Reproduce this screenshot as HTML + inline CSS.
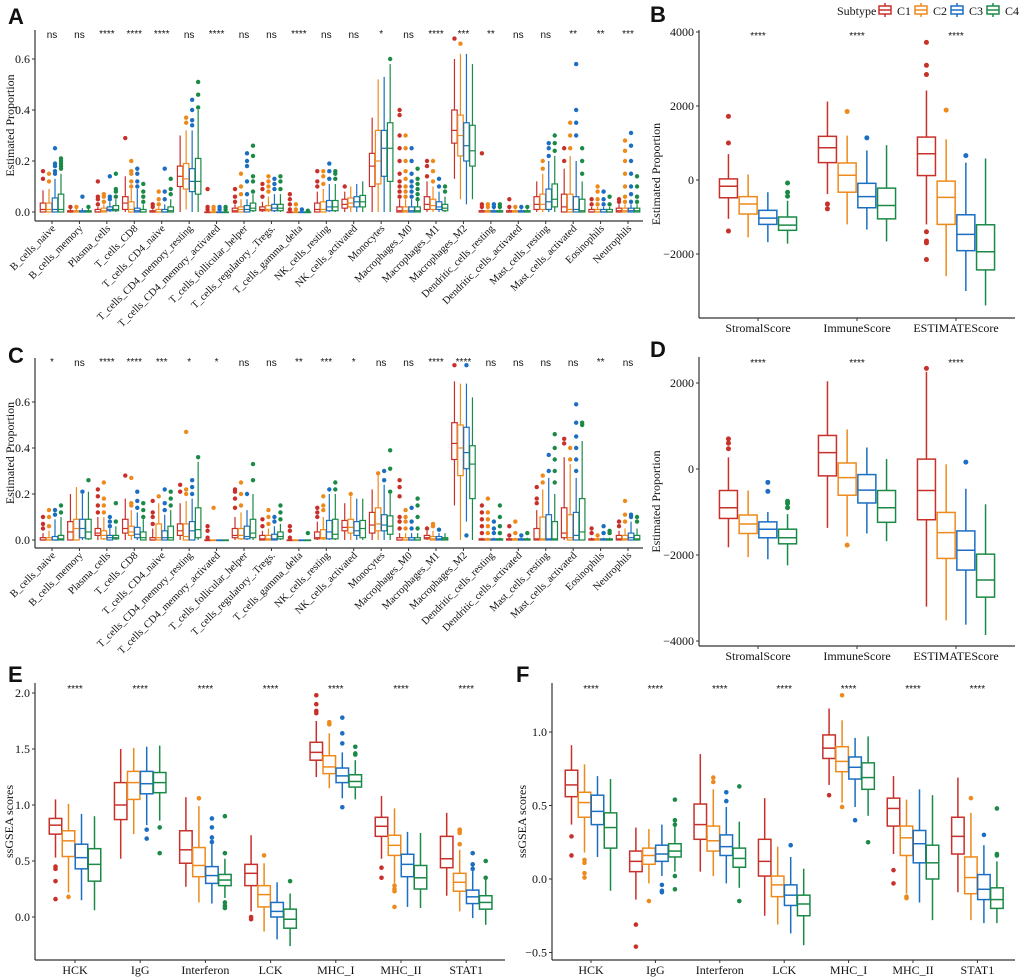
<!DOCTYPE html>
<html><head><meta charset="utf-8"><title>Immune infiltration boxplots</title>
<style>html,body{margin:0;padding:0;background:#fff}svg{display:block}
text{font-family:"Liberation Serif",serif;fill:#111}
.pl{font-family:"Liberation Sans",sans-serif;font-weight:bold;font-size:22px}
.sig{font-family:"Liberation Sans",sans-serif;font-size:10px}
</style></head><body>
<svg id="fig" width="1020" height="979" viewBox="0 0 1020 979"></svg>
<script>
const colors=["#c8302a","#ee8a1c","#1b6ec2","#1b8a47"];
const subtypes=["C1","C2","C3","C4"];
const cellCats=["B_cells_naive","B_cells_memory","Plasma_cells","T_cells_CD8","T_cells_CD4_naive","T_cells_CD4_memory_resting","T_cells_CD4_memory_activated","T_cells_follicular_helper","T_cells_regulatory_.Tregs.","T_cells_gamma_delta","NK_cells_resting","NK_cells_activated","Monocytes","Macrophages_M0","Macrophages_M1","Macrophages_M2","Dendritic_cells_resting","Dendritic_cells_activated","Mast_cells_resting","Mast_cells_activated","Eosinophils","Neutrophils"];
const scoreCats=["StromalScore","ImmuneScore","ESTIMATEScore"];
const geneCats=["HCK","IgG","Interferon","LCK","MHC_I","MHC_II","STAT1"];
const sigA=["ns","ns","****","****","****","ns","****","ns","ns","****","ns","ns","*","ns","****","***","**","ns","ns","**","**","***"];
const sigC=["*","ns","****","****","***","*","*","ns","ns","**","***","*","ns","ns","****","****","ns","ns","ns","ns","**","ns"];
const sig3=["****","****","****"];
const sig7=["****","****","****","****","****","****","****"];
// [low whisker, q1, median, q3, high whisker]
const A_C1=[[0,0,0.01,0.035,0.085],[0,0,0,0.005,0.015],[0,0,0,0.01,0.02],[0,0.01,0.035,0.06,0.14],[0,0,0,0.005,0.01],[0,0.1,0.14,0.18,0.3],[0,0,0,0,0],[0,0,0.005,0.015,0.03],[0,0.005,0.01,0.02,0.04],[0,0,0,0,0],[0,0,0.01,0.035,0.08],[0,0.015,0.03,0.05,0.08],[0,0.1,0.18,0.23,0.37],[0,0,0.005,0.02,0.05],[0,0.01,0.03,0.06,0.12],[0.13,0.27,0.32,0.4,0.6],[0,0,0,0.005,0.01],[0,0,0,0.005,0.01],[0,0.01,0.03,0.06,0.12],[0,0,0.02,0.07,0.17],[0,0,0,0.01,0.02],[0,0,0.005,0.015,0.03]];
const A_C2=[[0,0,0.01,0.035,0.09],[0,0,0,0.005,0.015],[0,0,0.005,0.015,0.03],[0,0,0.01,0.04,0.09],[0,0,0,0.01,0.02],[0.01,0.09,0.13,0.19,0.32],[0,0,0,0,0],[0,0,0.01,0.02,0.05],[0,0.005,0.01,0.025,0.06],[0,0,0,0,0],[0,0,0.01,0.04,0.09],[0,0.02,0.035,0.055,0.1],[0,0.11,0.2,0.32,0.52],[0,0,0.005,0.02,0.05],[0,0.01,0.025,0.05,0.1],[0.05,0.22,0.3,0.38,0.62],[0,0,0,0.005,0.01],[0,0,0,0.005,0.01],[0,0.01,0.03,0.07,0.15],[0,0,0.01,0.07,0.22],[0,0,0,0.01,0.02],[0,0,0.005,0.015,0.03]];
const A_C3=[[0,0,0.01,0.055,0.13],[0,0,0,0.005,0.015],[0,0.005,0.01,0.02,0.04],[0,0,0.005,0.015,0.09],[0,0,0,0.01,0.03],[0,0.08,0.12,0.17,0.32],[0,0,0,0,0],[0,0,0.01,0.025,0.05],[0,0.005,0.015,0.03,0.07],[0,0,0,0,0],[0,0.005,0.02,0.045,0.11],[0,0.02,0.04,0.06,0.11],[0,0.14,0.25,0.32,0.53],[0,0,0.005,0.02,0.05],[0,0.01,0.02,0.04,0.08],[0.03,0.2,0.26,0.35,0.62],[0,0,0,0.005,0.01],[0,0,0,0.005,0.01],[0,0.01,0.04,0.09,0.2],[0,0,0.01,0.06,0.2],[0,0,0,0.01,0.02],[0,0,0.005,0.015,0.03]];
const A_C4=[[0,0,0.01,0.07,0.15],[0,0,0,0.005,0.015],[0,0.005,0.01,0.025,0.05],[0,0,0,0.01,0.03],[0,0,0.005,0.02,0.05],[0,0.07,0.12,0.21,0.4],[0,0,0,0,0],[0,0.005,0.015,0.035,0.07],[0,0.005,0.015,0.03,0.07],[0,0,0,0,0],[0,0.005,0.02,0.045,0.11],[0,0.02,0.04,0.065,0.12],[0,0.12,0.25,0.35,0.58],[0,0,0.005,0.02,0.05],[0,0.005,0.015,0.03,0.06],[0.05,0.18,0.24,0.34,0.58],[0,0,0,0.005,0.01],[0,0,0,0.005,0.01],[0,0.02,0.05,0.11,0.22],[0,0,0.005,0.05,0.12],[0,0,0,0.01,0.02],[0,0,0.005,0.015,0.03]];
const A_O1=[[0.13,0.16],[0.02],[0.03,0.05,0.06,0.12],[0.29],[0.02,0.03],[],[0.01,0.02,0.09],[0.04,0.06,0.09],[0.06,0.09,0.11],[0.01,0.03,0.05,0.07],[0.1,0.12,0.16],[0.1],[],[0.06,0.08,0.1,0.12,0.15,0.2,0.25,0.3,0.38,0.4],[0.14,0.18,0.2],[0.68],[0.02,0.03,0.23],[0.02,0.05],[],[0.2,0.25],[0.03,0.05],[0.04,0.05]];
const A_O2=[[0.12,0.15],[0.02],[0.04,0.06,0.07],[0.1,0.12,0.15,0.16,0.2],[0.03,0.05,0.08],[0.35,0.37],[0.01,0.02],[0.07,0.1,0.15],[0.08,0.1,0.12,0.14],[0.01,0.03],[0.11,0.14,0.16],[],[],[0.06,0.08,0.1,0.13,0.16,0.2,0.25,0.3],[0.12,0.16,0.2],[0.66],[0.02,0.03],[0.02],[0.17,0.2],[0.25,0.3,0.35],[0.03,0.05,0.08,0.1],[0.04,0.06,0.1,0.15,0.2,0.24,0.28]];
const A_O3=[[0.15,0.16,0.18,0.19,0.25],[0.06],[0.05,0.06,0.14],[0.1,0.12,0.15,0.17],[0.05,0.08,0.17],[0.34,0.36,0.4,0.44],[0.01,0.02],[0.07,0.12,0.18,0.2,0.23],[0.09,0.11,0.13],[0.01],[0.13,0.16,0.19],[],[],[0.06,0.08,0.1,0.12,0.15,0.2,0.25],[0.1,0.13],[],[0.02,0.03],[0.02],[0.22,0.25,0.27],[0.3,0.35,0.4,0.58],[0.03,0.05,0.08],[0.04,0.07,0.1,0.15,0.2,0.26,0.31]];
const A_O4=[[0.17,0.18,0.19,0.2,0.21],[0.02],[0.06,0.08,0.09,0.15],[0.04,0.06,0.08,0.11],[0.07,0.09,0.13],[0.41,0.46,0.51],[0.01,0.02],[0.08,0.12,0.14,0.22,0.26],[0.09,0.12,0.14],[0.005],[0.13,0.15,0.16],[],[0.6],[0.05,0.07,0.09,0.11,0.13,0.17],[0.08,0.1],[],[0.02,0.03],[0.02],[0.24,0.27,0.3],[0.15,0.2,0.25],[0.03,0.06],[0.04,0.06,0.1,0.14]];
const C_C1=[[0,0,0,0.01,0.03],[0,0,0.035,0.08,0.2],[0,0.02,0.03,0.05,0.1],[0,0.03,0.05,0.09,0.18],[0,0,0,0.01,0.05],[0,0.02,0.04,0.07,0.16],[0,0,0,0,0],[0,0.01,0.02,0.05,0.1],[0,0,0.005,0.02,0.04],[0,0,0,0,0],[0,0.005,0.01,0.035,0.08],[0,0.04,0.055,0.085,0.16],[0,0.03,0.065,0.12,0.22],[0,0,0,0.01,0.03],[0,0.005,0.01,0.02,0.04],[0.15,0.35,0.42,0.51,0.69],[0,0,0,0.005,0.01],[0,0,0,0.005,0.01],[0,0,0.005,0.05,0.13],[0,0.01,0.03,0.14,0.36],[0,0,0,0.005,0.01],[0,0,0.005,0.02,0.04]];
const C_C2=[[0,0,0,0.01,0.04],[0,0,0.05,0.09,0.23],[0,0.005,0.02,0.04,0.1],[0,0.02,0.035,0.06,0.13],[0,0,0.01,0.07,0.16],[0,0,0.015,0.07,0.17],[0,0,0,0,0],[0,0.005,0.02,0.05,0.12],[0,0,0.005,0.02,0.05],[0,0,0,0,0],[0,0.005,0.01,0.045,0.1],[0,0.03,0.055,0.09,0.19],[0,0.04,0.07,0.14,0.28],[0,0,0,0.01,0.03],[0,0,0.005,0.015,0.04],[0,0.28,0.4,0.5,0.68],[0,0,0,0.005,0.01],[0,0,0,0.005,0.01],[0,0,0.005,0.1,0.22],[0,0,0.01,0.11,0.33],[0,0,0,0.005,0.01],[0,0,0.005,0.02,0.05]];
const C_C3=[[0,0,0,0.015,0.09],[0,0.01,0.05,0.09,0.2],[0,0,0.01,0.02,0.05],[0,0.01,0.025,0.055,0.12],[0,0,0.01,0.04,0.11],[0,0,0.04,0.08,0.18],[0,0,0,0,0],[0,0.005,0.015,0.06,0.13],[0,0,0.005,0.025,0.06],[0,0,0,0,0],[0,0.005,0.035,0.085,0.2],[0,0.02,0.04,0.08,0.18],[0,0.04,0.065,0.11,0.24],[0,0,0,0.01,0.03],[0,0,0.005,0.015,0.03],[0.08,0.31,0.38,0.49,0.68],[0,0,0,0.005,0.01],[0,0,0,0.005,0.01],[0,0,0.005,0.11,0.27],[0,0,0.02,0.12,0.27],[0,0,0,0.005,0.01],[0,0,0.01,0.03,0.08]];
const C_C4=[[0,0,0.005,0.02,0.1],[0,0.005,0.035,0.09,0.21],[0,0.005,0.01,0.02,0.06],[0,0,0.01,0.035,0.09],[0,0,0.01,0.06,0.13],[0,0.01,0.045,0.14,0.34],[0,0,0,0,0],[0,0.01,0.03,0.09,0.2],[0,0.005,0.015,0.035,0.07],[0,0,0,0,0],[0,0.005,0.025,0.09,0.2],[0,0.01,0.05,0.085,0.18],[0,0.025,0.06,0.105,0.2],[0,0,0,0.01,0.03],[0,0,0.005,0.01,0.03],[0,0.18,0.33,0.41,0.62],[0,0,0,0.005,0.01],[0,0,0,0.005,0.01],[0,0,0.005,0.08,0.2],[0,0,0.035,0.18,0.43],[0,0,0,0.005,0.01],[0,0,0.005,0.02,0.05]];
const C_O1=[[0.05,0.07,0.1],[],[0.12,0.15,0.19,0.22],[0.28],[0.07,0.1,0.12,0.17],[0.21,0.24],[0.01,0.04,0.06],[0.14,0.18,0.21,0.22],[0.06,0.09],[0.01,0.04,0.06],[0.1,0.12,0.14],[],[],[0.05,0.08,0.1,0.19,0.23,0.26],[0.05],[0.76],[0.03,0.06,0.09,0.12,0.15],[0.02,0.06],[0.16,0.18,0.23],[0.42,0.44],[0.03,0.05],[0.06,0.08]];
const C_O2=[[0.06,0.1,0.13],[],[0.12,0.15,0.18,0.25],[0.15,0.16,0.27],[0.19],[0.2,0.22,0.47],[0.14],[0.15,0.2,0.25],[0.07,0.1,0.13],[],[0.13,0.15,0.19],[0.2],[0.29],[0.05,0.08,0.1,0.13],[0.06,0.07],[],[0.03,0.06,0.09,0.12,0.18],[0.03,0.08],[0.25,0.28],[0.35,0.4],[0.02],[0.08,0.11,0.17]];
const C_O3=[[0.11,0.13],[0.21],[0.06,0.08,0.1],[0.14,0.17,0.21],[0.13,0.16,0.22],[0.2,0.23,0.26],[],[0.2],[0.08,0.1],[],[0.22],[],[0.26,0.3],[0.05,0.08,0.14],[0.045],[0.02,0.76],[0.03,0.05,0.08],[0.02],[0.3,0.37],[0.3,0.35,0.4,0.45,0.51,0.59],[0.03,0.06],[0.1,0.11]];
const C_O4=[[0.12,0.15],[0.26],[0.08,0.16],[0.1,0.13,0.16],[0.15,0.18,0.21],[0.36],[],[0.26,0.33],[0.09,0.12,0.15],[0.03],[0.22,0.25],[],[0.21,0.31,0.39],[0.05,0.1,0.15,0.18],[],[],[0.03,0.06,0.1,0.15],[0.03],[0.25,0.3,0.35,0.4,0.46],[0.5,0.51],[0.03,0.04],[0.08,0.1]];
const B_C1=[[-1050,-480,-170,30,700],[-380,470,870,1180,2120],[-1200,120,710,1160,2420]];
const B_C2=[[-1550,-920,-650,-450,150],[-1200,-330,130,460,1200],[-2600,-1200,-470,-30,1100]];
const B_C3=[[-1680,-1200,-1030,-820,-330],[-1340,-750,-450,-90,800],[-3000,-1910,-1470,-940,470]];
const B_C4=[[-1720,-1360,-1220,-1000,-560],[-1660,-1050,-690,-220,940],[-3390,-2430,-1940,-1210,580]];
const B_O1=[[1000,1720,-1380],[-650,-780],[2850,3100,3720,-1400,-1650,-1700,-2150]];
const B_O2=[[],[1850],[1890]];
const B_O3=[[],[1140],[660]];
const B_O4=[[-80,-330,-440],[],[]];
const D_C1=[[-1820,-1150,-900,-500,270],[-1370,-160,380,780,2040],[-3200,-1180,-500,230,2260]];
const D_C2=[[-2050,-1500,-1280,-1070,-500],[-1570,-610,-200,140,920],[-3520,-2080,-1480,-1010,110]];
const D_C3=[[-2100,-1600,-1400,-1230,-1000],[-1500,-790,-490,-130,500],[-3620,-2350,-1890,-1440,-460]];
const D_C4=[[-2240,-1740,-1600,-1400,-1050],[-1680,-1240,-900,-500,230],[-3860,-2980,-2580,-1980,-820]];
const D_O1=[[470,600,700],[],[2340]];
const D_O2=[[],[-1770],[]];
const D_O3=[[-520,-310],[],[160]];
const D_O4=[[-900,-800,-750],[],[]];
const E_C1=[[0.53,0.74,0.82,0.88,1.05],[0.52,0.87,1.0,1.2,1.5],[0.27,0.48,0.6,0.77,1.07],[0.05,0.28,0.39,0.47,0.73],[1.25,1.4,1.47,1.56,1.75],[0.52,0.72,0.81,0.89,1.08],[0.19,0.44,0.52,0.72,0.93]];
const E_C2=[[0.22,0.54,0.68,0.77,1.01],[0.74,1.05,1.2,1.3,1.51],[0.13,0.36,0.46,0.62,0.99],[-0.13,0.09,0.2,0.28,0.48],[1.15,1.28,1.34,1.44,1.64],[0.3,0.55,0.64,0.73,0.97],[0.05,0.23,0.31,0.39,0.6]];
const E_C3=[[0.15,0.43,0.53,0.65,0.92],[0.82,1.1,1.19,1.3,1.52],[0.12,0.3,0.37,0.45,0.66],[-0.2,0,0.05,0.13,0.31],[1.06,1.2,1.26,1.33,1.47],[0.09,0.36,0.47,0.56,0.76],[-0.01,0.12,0.18,0.24,0.41]];
const E_C4=[[0.06,0.32,0.47,0.61,0.9],[0.86,1.11,1.2,1.29,1.53],[0.17,0.28,0.33,0.38,0.52],[-0.26,-0.1,-0.02,0.07,0.21],[1.05,1.16,1.21,1.27,1.4],[0.08,0.25,0.35,0.46,0.75],[-0.07,0.07,0.13,0.19,0.33]];
const E_O1=[[0.45,0.43,0.32,0.16],[],[],[0,-0.02],[1.82,1.84,1.9,1.98],[0.44,0.35],[]];
const E_O2=[[0.18],[],[1.06],[0.55],[1.72,1.74],[0.28,0.25,0.23,0.09],[0.65,0.75,0.77,0.78]];
const E_O3=[[],[0.78,0.7],[0.71,0.8,0.88,0.67],[],[0.98,1.55,1.64,1.78],[],[0.43,0.47,0.57]];
const E_O4=[[],[0.8,0.57],[0.57,0.9,0.13,0.1,0.08],[0.32],[1.45,1.46,1.52],[],[0.35,0.5]];
const F_C1=[[0.37,0.56,0.64,0.74,0.91],[-0.14,0.05,0.12,0.19,0.35],[0.05,0.27,0.37,0.51,0.85],[-0.25,0.02,0.12,0.27,0.55],[0.64,0.82,0.89,0.98,1.16],[0.17,0.36,0.48,0.55,0.7],[-0.09,0.17,0.29,0.42,0.69]];
const F_C2=[[0.18,0.42,0.52,0.59,0.78],[-0.03,0.1,0.16,0.21,0.34],[0.02,0.19,0.26,0.36,0.61],[-0.31,-0.12,-0.04,0.02,0.22],[0.52,0.73,0.8,0.9,1.08],[-0.1,0.16,0.28,0.36,0.54],[-0.28,-0.1,0.01,0.15,0.45]];
const F_C3=[[0.15,0.37,0.46,0.57,0.7],[0.02,0.12,0.17,0.23,0.37],[-0.03,0.16,0.22,0.3,0.49],[-0.37,-0.18,-0.11,-0.04,0.15],[0.49,0.68,0.76,0.83,0.96],[-0.16,0.11,0.24,0.33,0.61],[-0.3,-0.14,-0.07,0.03,0.23]];
const F_C4=[[-0.08,0.21,0.35,0.45,0.68],[0.05,0.15,0.19,0.24,0.36],[-0.06,0.08,0.14,0.21,0.39],[-0.45,-0.25,-0.17,-0.11,0.07],[0.43,0.61,0.69,0.79,0.97],[-0.28,0,0.11,0.23,0.57],[-0.3,-0.2,-0.14,-0.06,0.12]];
const F_O1=[[0.29,0.16],[-0.31,-0.46],[],[],[0.57],[0.06,-0.03],[]];
const F_O2=[[0.13,0.11,0.04,0.01],[-0.15],[0.66,0.69],[],[0.49,1.25],[-0.12,-0.13],[0.55]];
const F_O3=[[],[-0.04,-0.08,-0.09],[0.53,0.59],[0.23],[0.4],[],[0.3]];
const F_O4=[[],[0.37,0.4,0.54,0.02,-0.07],[0.63,-0.15],[],[0.25],[],[0.16,0.17,0.48]];
const yTicksA=[0,0.2,0.4,0.6], yTicksB=[-2000,0,2000,4000], yTicksD=[-4000,-2000,0,2000];
const yTicksE=[0,0.5,1,1.5,2], yTicksF=[-0.5,0,0.5,1];

const NS="http://www.w3.org/2000/svg";
const svg=document.getElementById('fig');
function mk(tag,attrs,parent){const e=document.createElementNS(NS,tag);for(const k in attrs)e.setAttribute(k,attrs[k]);(parent||svg).appendChild(e);return e;}
function txt(s,attrs,parent){const e=mk('text',attrs,parent);e.textContent=s;return e;}

function panel(p){
  const g=mk('g',{});
  
  
  const y=v=>p.py0+(v-p.v0)*(p.py1-p.py0)/(p.v1-p.v0);
  const x=i=>p.c0+i*p.step;
  const ya=mk('line',{x1:p.ax,y1:p.top,x2:p.ax,y2:p.bottom,stroke:'#333','stroke-width':1.2},g);
  
  
  const xa=mk('line',{x1:p.ax,y1:p.bottom,x2:p.xEnd,y2:p.bottom,stroke:'#333','stroke-width':1.2},g);
  
  
  p.ticks.forEach(t=>{
    const yy=y(t);
    mk('line',{x1:p.ax-3,y1:yy,x2:p.ax,y2:yy,stroke:'#333','stroke-width':1},g);
    const lab=txt(p.fmt(t),{x:p.ax-5,y:yy+4,'text-anchor':'end','font-size':12},g);
    
    
  });
  const yt=txt(p.ytitle,{x:0,y:0,'font-size':12,'text-anchor':'middle',transform:`translate(${p.ytx},${(p.top+p.bottom)/2}) rotate(-90)`},g);
  
  
  p.cats.forEach((c,i)=>{
    const cx=x(i);
    mk('line',{x1:cx,y1:p.bottom,x2:cx,y2:p.bottom+3,stroke:'#333','stroke-width':1},g);
    let lab;
    if(p.rot){lab=txt(c,{x:0,y:0,'font-size':10.5,'text-anchor':'end',transform:`translate(${cx+4},${p.bottom+8}) rotate(-45)`},g);}
    else{lab=txt(c,{x:cx,y:p.bottom+14,'font-size':12,'text-anchor':'middle'},g);}
    
    
    const s=txt(p.sig[i],{x:cx,y:p.sigY+(p.sig[i]==='ns'?0:-1),'text-anchor':'middle',class:'sig','font-size':p.sig[i]==='ns'?11:9},g);
    
    
    for(let k=0;k<4;k++){
      const st=p.stats[k][i], bx=cx+(k-1.5)*p.dodge, hw=p.bw/2, col=colors[k];
      const bg=mk('g',{},g);
      
      
      mk('line',{x1:bx,y1:y(st[0]),x2:bx,y2:y(st[1]),stroke:col,'stroke-width':p.lw},bg);
      mk('line',{x1:bx,y1:y(st[3]),x2:bx,y2:y(st[4]),stroke:col,'stroke-width':p.lw},bg);
      const h=Math.max(0.6,y(st[1])-y(st[3]));
      mk('rect',{x:bx-hw,y:y(st[3]),width:p.bw,height:h,fill:'#fff',stroke:col,'stroke-width':p.lw},bg);
      mk('line',{x1:bx-hw,y1:y(st[2]),x2:bx+hw,y2:y(st[2]),stroke:col,'stroke-width':p.lw},bg);
      p.outs[k][i].forEach(v=>{
        const d=mk('circle',{cx:bx,cy:y(v),r:p.r,fill:col},bg);
        
        
      });
    }
  });
}
const f1=v=>v.toFixed(1), f0=v=>v<0?'\u2212'+Math.abs(v):String(v);
panel({name:'panel-a',cats:cellCats,sig:sigA,stats:[A_C1,A_C2,A_C3,A_C4],outs:[A_O1,A_O2,A_O3,A_O4],ticks:yTicksA,fmt:f1,
 ax:35,xEnd:643,top:30,bottom:221,v0:0,py0:212,v1:0.6,py1:59,c0:52,step:27.43,bw:5.5,dodge:6,lw:1.2,r:2.2,rot:true,sigY:38,ytitle:'Estimated Proportion',ytx:14});
panel({name:'panel-c',cats:cellCats,sig:sigC,stats:[C_C1,C_C2,C_C3,C_C4],outs:[C_O1,C_O2,C_O3,C_O4],ticks:yTicksA,fmt:f1,
 ax:35,xEnd:643,top:358,bottom:548,v0:0,py0:540,v1:0.6,py1:402,c0:52,step:27.43,bw:5.5,dodge:6,lw:1.2,r:2.2,rot:true,sigY:366,ytitle:'Estimated Proportion',ytx:14});
panel({name:'panel-b',cats:scoreCats,sig:sig3,stats:[B_C1,B_C2,B_C3,B_C4],outs:[B_O1,B_O2,B_O3,B_O4],ticks:yTicksB,fmt:f0,
 ax:699,xEnd:1015,top:30,bottom:318,v0:0,py0:180,v1:2000,py1:106,c0:758,step:99,bw:18,dodge:19.7,lw:1.5,r:2.5,rot:false,sigY:40,ytitle:'Estimated Proportion',ytx:660});
panel({name:'panel-d',cats:scoreCats,sig:sig3,stats:[D_C1,D_C2,D_C3,D_C4],outs:[D_O1,D_O2,D_O3,D_O4],ticks:yTicksD,fmt:f0,
 ax:699,xEnd:1015,top:357,bottom:646,v0:0,py0:469,v1:2000,py1:383,c0:758,step:99,bw:18,dodge:19.7,lw:1.5,r:2.5,rot:false,sigY:367,ytitle:'Estimated Proportion',ytx:660});
panel({name:'panel-e',cats:geneCats,sig:sig7,stats:[E_C1,E_C2,E_C3,E_C4],outs:[E_O1,E_O2,E_O3,E_O4],ticks:yTicksE,fmt:f1,
 ax:35,xEnd:505,top:683,bottom:960,v0:0,py0:917,v1:2,py1:693,c0:75,step:65.2,bw:12.5,dodge:13,lw:1.5,r:2.3,rot:false,sigY:693,ytitle:'ssGSEA scores',ytx:13});
panel({name:'panel-f',cats:geneCats,sig:sig7,stats:[F_C1,F_C2,F_C3,F_C4],outs:[F_O1,F_O2,F_O3,F_O4],ticks:yTicksF,fmt:v=>(v<0?'\u2212':'')+Math.abs(v).toFixed(1),
 ax:552,xEnd:1015,top:683,bottom:960,v0:0,py0:879,v1:1,py1:732,c0:591,step:64.4,bw:12.5,dodge:13,lw:1.5,r:2.3,rot:false,sigY:693,ytitle:'ssGSEA scores',ytx:526});

[['A',8,24],['B',650,22],['C',8,363],['D',650,357],['E',8,682],['F',516,682]].forEach(l=>{
  const t=txt(l[0],{x:l[1],y:l[2],class:'pl'});
  
  
});
const lg=mk('g',{});


const lt=txt('Subtype',{x:837,y:15,'font-size':12},lg);


subtypes.forEach((s,k)=>{
  const kx=879+k*36, col=colors[k];
  const e=mk('g',{},lg);
  
  
  mk('line',{x1:kx+6,y1:3,x2:kx+6,y2:17,stroke:col,'stroke-width':1.5},e);
  mk('rect',{x:kx,y:6,width:12,height:8,fill:'#fff',stroke:col,'stroke-width':1.5},e);
  mk('line',{x1:kx,y1:10,x2:kx+12,y2:10,stroke:col,'stroke-width':1.5},e);
  txt(s,{x:kx+18,y:15,'font-size':12},e);
});
</script>
</body></html>
